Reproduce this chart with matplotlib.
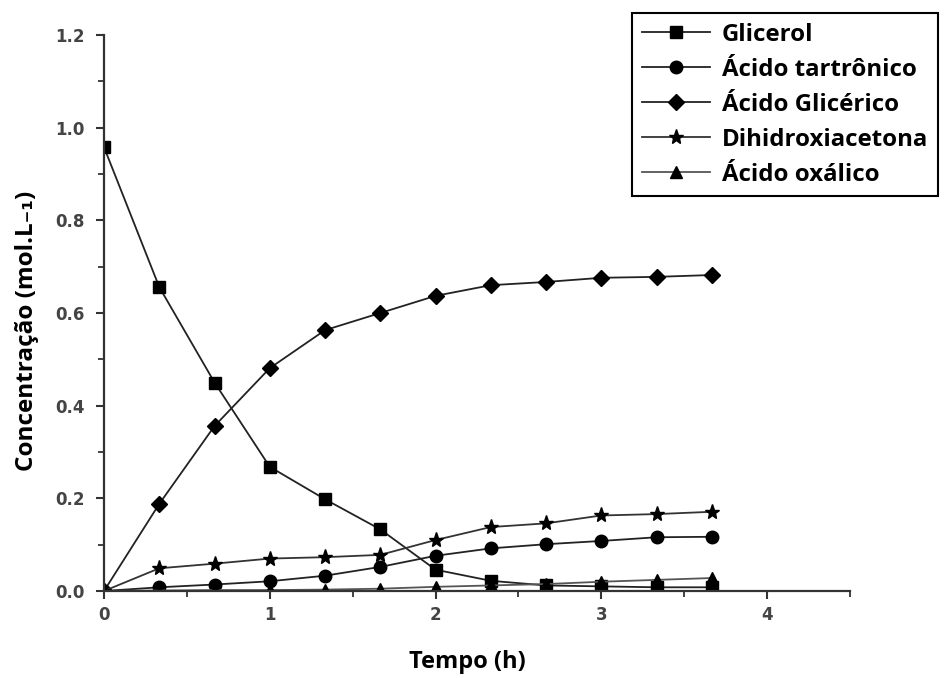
import matplotlib
matplotlib.use("Agg")
import matplotlib.pyplot as plt
from matplotlib.ticker import MultipleLocator

# Data
tempo = [0, 1/3, 2/3, 1, 4/3, 5/3, 2, 7/3, 8/3, 3, 10/3, 11/3]
glicerol = [0.958, 0.656, 0.450, 0.268, 0.198, 0.133, 0.046, 0.022, 0.012, 0.010, 0.008, 0.008]
acido_tartronico = [0.0, 0.008, 0.014, 0.021, 0.033, 0.052, 0.076, 0.092, 0.101, 0.108, 0.116, 0.117]
acido_glicerico = [0.0, 0.188, 0.356, 0.481, 0.563, 0.600, 0.637, 0.660, 0.667, 0.676, 0.678, 0.682]
dihidroxiacetona = [0.0, 0.049, 0.059, 0.070, 0.073, 0.078, 0.110, 0.138, 0.146, 0.163, 0.166, 0.171]
acido_oxalico = [0.0, 0.001, 0.002, 0.002, 0.003, 0.005, 0.009, 0.012, 0.015, 0.020, 0.024, 0.028]

labels = ["Glicerol", "Ácido tartrônico", "Ácido Glicérico", "Dihidroxiacetona", "Ácido oxálico"]
xticks = [0, 1, 2, 3, 4]
yticks = [0.0, 0.2, 0.4, 0.6, 0.8, 1.0, 1.2]

fig = plt.figure(figsize=(9.48, 6.78), dpi=100)
ax = fig.add_axes([104/948, 1-591/678, (850-104)/948, (591-35)/678])

series = [glicerol, acido_tartronico, acido_glicerico, dihidroxiacetona, acido_oxalico]
markers = ['s', 'o', 'D', '*', '^']
msizes = [8, 9, 8.5, 11, 9]
lcolors = ['#222222', '#222222', '#222222', '#333333', '#555555']
for y, m, ms, lc, lab in zip(series, markers, msizes, lcolors, labels):
    ax.plot(tempo, y, marker=m, markersize=ms, color=lc, markerfacecolor='black',
            markeredgecolor='black', linewidth=1.3, label=lab)

ax.set_xlim(0, 4.5)
ax.set_ylim(0, 1.2)
ax.set_xticks(xticks)
ax.set_yticks(yticks)
ax.set_yticklabels([f"{v:.1f}" for v in yticks])
ax.xaxis.set_minor_locator(MultipleLocator(0.5))
ax.yaxis.set_minor_locator(MultipleLocator(0.1))
ax.spines['top'].set_visible(False)
ax.spines['right'].set_visible(False)
for s in ['left', 'bottom']:
    ax.spines[s].set_color('#333333')
    ax.spines[s].set_linewidth(1.6)
ax.tick_params(which='major', direction='out', length=6, width=1.5, color='#333333')
ax.tick_params(which='minor', direction='out', length=4, width=1.3, color='#333333')
for lbl in ax.get_xticklabels() + ax.get_yticklabels():
    lbl.set_fontfamily('DejaVu Sans')
    lbl.set_fontweight('bold')
    lbl.set_fontsize(12)
    lbl.set_color('#444444')
ax.tick_params(axis='x', pad=5)
ax.tick_params(axis='y', pad=8)

fig.text(467/948, 1-662/678, "Tempo (h)", ha='center', va='center',
         fontsize=17, fontweight='bold', family=['Open Sans', 'DejaVu Sans'])
fig.text(27/948, 1-331/678, "Concentração (mol.L₋₁)", ha='center', va='center',
         rotation=90, fontsize=17.5, fontweight='bold', family=['Open Sans', 'DejaVu Sans'])

leg = ax.legend(loc='upper left', bbox_to_anchor=(632/948, 1-13/678),
                bbox_transform=fig.transFigure, borderaxespad=0,
                frameon=True, fancybox=False, framealpha=1, edgecolor='black',
                handlelength=2.85, handletextpad=0.5, labelspacing=0.46,
                borderpad=0.4,
                prop={'family': 'Open Sans', 'weight': 'bold', 'size': 17.3})
leg.get_frame().set_linewidth(1.5)

fig.savefig("out.png", dpi=100)
